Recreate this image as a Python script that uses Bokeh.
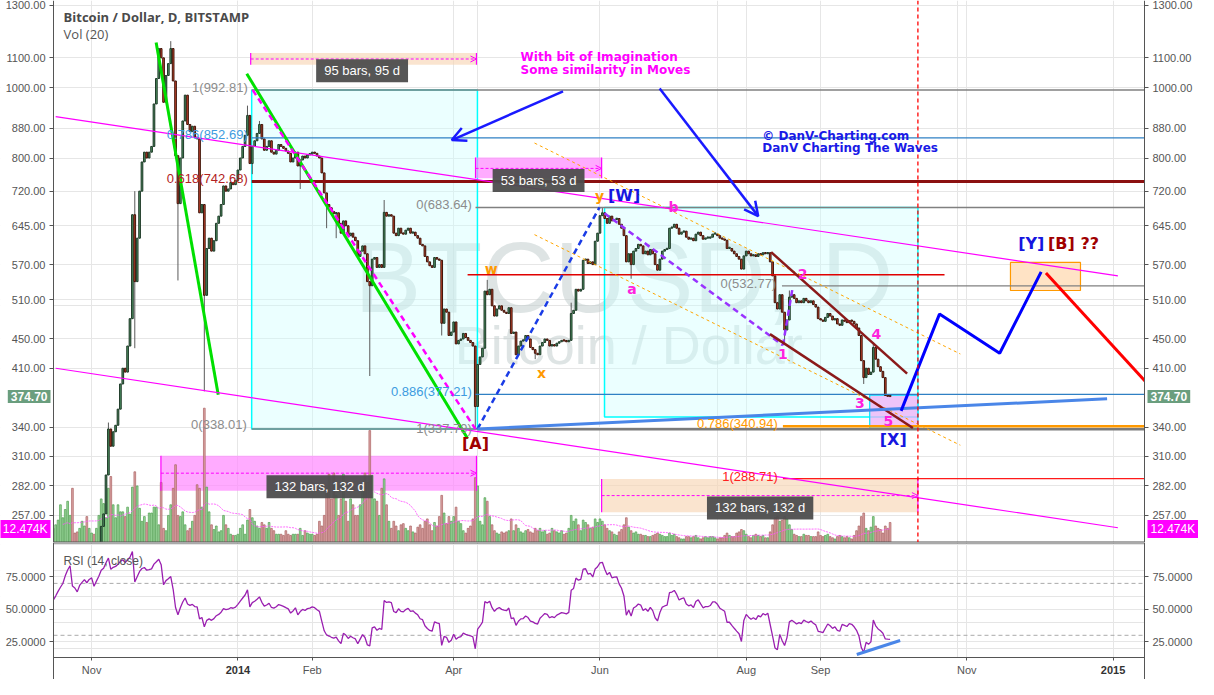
import datetime as dt
import numpy as np
import pandas as pd
from bokeh.plotting import figure
from bokeh.layouts import column
from bokeh.models import (ColumnDataSource, Range1d, LinearScale, LogAxis, LinearAxis, Grid,
                          FixedTicker, NumeralTickFormatter, Label, Arrow, OpenHead, Span)
from bokeh.embed import file_html
from bokeh.resources import INLINE

# ------------------------------------------------------------------ data
first_date = "2013-10-01"
first_open = 127.0

close_2013_10 = [128, 126, 110, 121, 122, 120, 124, 123, 125, 124, 127, 126, 130, 128, 133, 136,
                 140, 145, 150, 155, 168, 182, 196, 178, 176, 172, 185, 192, 199, 196, 204]
close_2013_11 = [208, 200, 212, 226, 248, 258, 292, 338, 320, 335, 342, 360, 390, 410, 405,
                 440, 480, 668, 540, 620, 720, 790, 815, 800, 815, 830, 950, 1030, 1133, 1100]
close_2013_12 = [955, 1040, 1080, 1133, 1022, 806, 692, 800, 900, 977, 890, 870, 885, 855, 850,
                 672, 690, 517, 600, 620, 595, 615, 650, 665, 690, 732, 720, 725, 740, 735, 745]
close_2014_01 = [770, 800, 830, 860, 916, 786, 830, 845, 865, 890, 850, 820, 830, 845, 815,
                 810, 820, 835, 830, 825, 818, 812, 790, 800, 815, 780, 795, 805, 800, 808, 810]
close_2014_02 = [815, 812, 805, 800, 763, 716, 690, 683, 675, 670, 672, 650, 630, 655, 645,
                 625, 630, 622, 615, 585, 595, 605, 590, 540, 533, 580, 583, 565]
close_2014_03 = [570, 565, 673, 665, 668, 665, 630, 625, 640, 630, 628, 636, 640, 630, 632,
                 625, 620, 608, 605, 585, 575, 568, 565, 583, 580, 578, 473, 495, 490, 455, 460]
close_2014_04 = [475, 443, 448, 450, 458, 452, 448, 445, 440, 363, 415, 425, 437, 524, 518,
                 527, 500, 484, 495, 500, 493, 490, 488, 497, 458, 460, 428, 440, 447, 448]
close_2014_05 = [455, 450, 438, 435, 430, 428, 440, 445, 450, 448, 440, 442, 440, 444, 446,
                 448, 447, 446, 448, 488, 493, 527, 524, 527, 578, 580, 572, 575, 570, 614, 630]
close_2014_06 = [666, 672, 660, 650, 665, 655, 658, 660, 648, 640, 625, 575, 590, 570, 595,
                 600, 608, 605, 590, 595, 588, 598, 590, 570, 560, 580, 595, 598, 600, 640]
close_2014_07 = [642, 648, 640, 628, 632, 634, 622, 618, 620, 615, 628, 632, 625, 618, 620,
                 620, 622, 628, 628, 625, 620, 618, 616, 600, 600, 595, 590, 585, 580, 562, 586]
close_2014_08 = [595, 590, 586, 588, 585, 590, 588, 592, 590, 592, 575, 550, 505, 495, 518,
                 490, 463, 478, 514, 518, 512, 505, 508, 505, 512, 508, 505, 508, 502, 498, 480]
close_2014_09 = [478, 476, 482, 488, 484, 478, 480, 472, 470, 478, 476, 474, 477, 476, 472,
                 466, 455, 420, 398, 410, 402, 405, 438, 422, 412, 406, 398, 376, 375, 374.70]

# volume in thousands of BTC
vol_2013_10 = [12, 20, 45, 25, 10, 8, 9, 10, 12, 10, 8, 7, 8, 10, 14, 12,
               15, 19, 32, 21, 28, 35, 23, 46, 8, 9, 12, 18, 14, 22, 12]
vol_2013_11 = [8, 7, 12, 23, 37, 33, 21, 46, 56, 32, 21, 32, 26, 26, 22,
               30, 24, 47, 60, 48, 29, 18, 22, 17, 25, 25, 30, 30, 15, 51]
vol_2013_12 = [12, 10, 23, 32, 46, 66, 23, 22, 26, 15, 10, 12, 18, 23, 49,
               46, 30, 114, 47, 26, 15, 11, 14, 9, 10, 23, 15, 12, 7, 6, 6]
vol_2014_01 = [7, 12, 15, 7, 19, 28, 21, 18, 14, 12, 17, 15, 12, 17, 12,
               10, 7, 7, 7, 6, 10, 7, 6, 7, 7, 7, 12, 6, 10, 8, 7]
vol_2014_02 = [7, 6, 7, 18, 14, 23, 46, 58, 37, 59, 40, 23, 37, 58, 35,
               18, 37, 32, 23, 23, 32, 46, 59, 51, 95, 57, 37, 35]
vol_2014_03 = [23, 46, 54, 32, 18, 12, 18, 14, 10, 15, 16, 12, 10, 14, 9,
               8, 13, 15, 12, 18, 20, 15, 10, 17, 14, 22, 40, 25, 16, 22, 18]
vol_2014_04 = [22, 30, 18, 16, 10, 8, 12, 14, 20, 55, 48, 18, 15, 38, 35,
               22, 15, 10, 8, 7, 9, 8, 9, 10, 20, 10, 15, 12, 9, 8]
vol_2014_05 = [10, 11, 9, 8, 12, 10, 12, 9, 10, 7, 8, 12, 10, 9, 8,
               10, 7, 8, 12, 23, 18, 20, 15, 10, 19, 17, 15, 12, 13, 20, 17]
vol_2014_06 = [20, 18, 15, 12, 10, 9, 7, 6, 9, 11, 15, 21, 13, 10, 8,
               9, 7, 7, 6, 6, 5, 5, 6, 7, 8, 7, 6, 5, 5, 8]
vol_2014_07 = [6, 7, 5, 4, 3, 3, 5, 5, 4, 5, 6, 4, 3, 4, 5,
               4, 5, 5, 4, 3, 4, 4, 6, 8, 6, 5, 5, 8, 9, 11, 10]
vol_2014_08 = [7, 5, 4, 6, 7, 6, 5, 6, 4, 4, 9, 15, 21, 22, 18,
               19, 22, 20, 15, 11, 7, 6, 5, 5, 7, 6, 6, 5, 5, 5, 9]
vol_2014_09 = [6, 5, 6, 7, 5, 4, 3, 5, 6, 5, 4, 5, 4, 3, 6,
               10, 14, 22, 25, 12, 10, 13, 22, 14, 12, 11, 8, 14, 12, 17]

# notable wicks
wick_high = {"2013-11-08": 345, "2013-11-19": 720, "2013-12-04": 1160, "2014-01-05": 945,
             "2014-01-10": 900, "2014-03-03": 700, "2014-04-15": 543, "2014-05-20": 505,
             "2014-06-02": 683.64, "2014-08-19": 525, "2014-09-23": 445}
wick_low = {"2013-11-19": 437, "2013-12-07": 542, "2013-12-18": 381, "2014-01-07": 760,
            "2014-01-27": 725, "2014-02-07": 640, "2014-02-11": 620, "2014-02-25": 400,
            "2014-03-27": 455, "2014-04-10": 337.79, "2014-05-05": 422, "2014-06-14": 545,
            "2014-08-17": 445, "2014-09-19": 390}

price_ticks = [257, 282, 310, 340, 410, 450, 510, 570, 645, 720, 800, 880, 1000, 1100, 1300]
rsi_ticks = [25, 50, 75]
month_ticks = [-61, 0, 31, 90, 151, 212, 243, 304, 365]      # days from 2014-01-01
month_labels = ["Nov", "2014", "Feb", "Apr", "Jun", "Aug", "Sep", "Nov", "2015"]
last_price = 374.70
vol_ma_text = "12.474K"

# drawings (x = days from 2014-01-01, y = price)
hlines = [  # x0, x1, price, color, width
    (5.75, 400, 992.81, "#808080", 1.5),
    (5.75, 400, 852.69, "#2f80c4", 1.2),
    (5.75, 400, 742.68, "#8b1010", 3.0),
    (5.75, 400, 338.01, "#808080", 1.5),
    (99.1, 400, 683.64, "#808080", 1.5),
    (99.1, 400, 377.21, "#2f80c4", 1.2),
    (99.9, 400, 337.79, "#7a7a7a", 2.5),
    (226.9, 400, 532.77, "#808080", 1.2),
    (227.3, 400, 288.71, "#ff1a1a", 1.2),
    (227.3, 400, 340.94, "#ff9900", 2.5),
    (95.8, 294.7, 552.0, "#e00000", 1.5),
]
diag_lines = [  # x0, p0, x1, p1, color, width, dash
    (-34.1, 1155, -8.2, 377, "#00e000", 3, "solid"),
    (3.7, 1046, 95.8, 328, "#00e000", 3, "solid"),
    (6.2, 992.8, 99.1, 337.8, "#ff00ff", 2.5, "6 4"),
    (99.9, 337.8, 150.8, 683.6, "#1a3ce6", 2.5, "6 4"),
    (152.9, 671, 227.3, 441, "#9933ff", 2.5, "6 4"),
    (227.3, 441, 231.4, 531, "#9933ff", 2.5, "6 4"),
    (123.7, 839, 301.3, 429, "#ffa500", 1, "3 3"),
    (123.7, 627, 301.3, 321, "#ffa500", 1, "3 3"),
    (222.4, 593, 279.1, 403, "#8b1a1a", 2.5, "solid"),
    (221.9, 457, 281.5, 339, "#8b1a1a", 2.5, "solid"),
    (-76.0, 912.5, 367.0, 550, "#ff00ff", 1.2, "solid"),
    (-76.0, 410, 367.0, 246.9, "#ff00ff", 1.2, "solid"),
    (99.9, 338, 362.5, 372, "#4a86e8", 3, "solid"),
    (337.0, 555, 378.5, 393, "#ff0000", 3, "solid"),
]
forecast_x = [276.6, 292.6, 317.7, 335.0]
forecast_p = [358, 487, 430, 557]
boxes = [  # x0, x1, p0, p1, fill, alpha, line, width
    (5.75, 99.9, 338.01, 992.81, "#ccffff", 0.4, "#00ffff", 1.5),
    (152.9, 283.6, 351, 683.64, "#ccffff", 0.4, "#00ffff", 1.5),
    (263.5, 283.6, 339, 376.5, "#eeb0f7", 0.75, "#00e5ff", 1.2),
    (322.2, 351.4, 525, 574, "#ffe0bf", 0.9, "#ff9900", 1.2),
]
range_tools = [  # x0, x1, p_lo, p_hi, p_mid, fill, alpha, text, label_x, label_p
    (5.34, 99.5, 1076, 1117, 1096, "#f8d5b5", 0.65, "95 bars, 95 d", 51.8, 1056),
    (99.1, 151.7, 750, 801, 774, "#ff88ff", 0.7, "53 bars, 53 d", 125.4, 744.5),
    (-32.1, 99.5, 277.7, 310.4, 293.7, "#ff88ff", 0.7, "132 bars, 132 d", 34.1, 281.2),
    (151.7, 283.6, 259.4, 288.2, 273.5, "#f8d5b5", 0.65, "132 bars, 132 d", 217.8, 263),
]
arrows = [  # x_start, p_start, x_end, p_end
    (135.6, 989, 89.2, 847),
    (175.9, 998, 217.0, 665),
]
fib_labels = [  # text, x, p, color
    ("1(992.81)", 4.1, 1001, "#8c8c8c"),
    ("0.786(852.69)", 4.1, 863, "#3d9be0"),
    ("0.618(742.68)", 4.1, 750, "#b22222"),
    ("0(338.01)", 3.7, 343, "#8c8c8c"),
    ("0(683.64)", 97.6, 690, "#8c8c8c"),
    ("0.886(377.21)", 97.6, 381, "#3d9be0"),
    ("1(337.79)", 97.6, 339, "#8c8c8c"),
    ("0(532.77)", 224.5, 536.5, "#8c8c8c"),
    ("1(288.71)", 225.2, 291, "#ff2020"),
    ("0.786(340.94)", 225.2, 344, "#ff9900"),
]
wave_labels = [  # text, x, p, color, size
    ("y", 150.8, 709.5, "#ff9900", 14), ("[W]", 161.1, 709.5, "#1515e0", 16),
    ("b", 181.7, 684, "#ff22dd", 14), ("w", 105.6, 562, "#ff9900", 14),
    ("x", 126.6, 404, "#ff9900", 14), ("a", 164.4, 527, "#ff22dd", 14),
    ("[A]", 99.1, 323, "#a00000", 16), ("1", 227.3, 429, "#ff22dd", 14),
    ("2", 235.5, 553, "#ff22dd", 14), ("3", 259.4, 367, "#ff22dd", 14),
    ("4", 266.3, 457, "#ff22dd", 14), ("5", 271.3, 347, "#ff22dd", 14),
    ("[X]", 273.3, 327, "#1515e0", 16), ("[Y]", 330.9, 609, "#1515e0", 16),
    ("[B]", 343.4, 609, "#a00000", 16), ("??", 355.3, 609, "#a00000", 16),
]
notes = [  # text, x, p, color
    ("With bit of Imagination", 117.9, 1103, "#ff00ff"),
    ("Some similarity in Moves", 117.9, 1059, "#ff00ff"),
    ("\u00a9 DanV-Charting.com", 218.7, 857.5, "#1a1ae6"),
    ("DanV Charting The Waves", 218.7, 826, "#1a1ae6"),
]
rsi_trend = ([258.1, 276.2], [15.2, 26.0])
rsi_levels = [70, 30]
vertical_marker = 283.6

# ------------------------------------------------------------------ derived series
closes = (close_2013_10 + close_2013_11 + close_2013_12 + close_2014_01 + close_2014_02 +
          close_2014_03 + close_2014_04 + close_2014_05 + close_2014_06 + close_2014_07 +
          close_2014_08 + close_2014_09)
vols = (vol_2013_10 + vol_2013_11 + vol_2013_12 + vol_2014_01 + vol_2014_02 + vol_2014_03 +
        vol_2014_04 + vol_2014_05 + vol_2014_06 + vol_2014_07 + vol_2014_08 + vol_2014_09)
n = min(len(closes), len(vols))
closes, vols = closes[:n], vols[:n]
start = dt.date.fromisoformat(first_date)
epoch = dt.date(2014, 1, 1)
day = np.array([(start - epoch).days + i for i in range(n)], dtype=float)
close = np.array(closes, dtype=float)
opn = np.concatenate([[first_open], close[:-1]])
high = np.maximum(opn, close)
low = np.minimum(opn, close)
for k, v in wick_high.items():
    i = (dt.date.fromisoformat(k) - start).days
    if 0 <= i < n:
        high[i] = max(high[i], v)
for k, v in wick_low.items():
    i = (dt.date.fromisoformat(k) - start).days
    if 0 <= i < n:
        low[i] = min(low[i], v)
up = close >= opn
body_top = np.maximum(opn, close)
body_bot = np.minimum(opn, close)
body_top = np.where(body_top / body_bot < 1.004, body_bot * 1.004, body_top)


def wilder_rsi(c, length=14):
    diff = np.diff(c)
    gain = np.clip(diff, 0, None)
    loss = np.clip(-diff, 0, None)
    out = np.full(len(c), np.nan)
    ag, al = gain[:length].mean(), loss[:length].mean()
    out[length] = 100 - 100 / (1 + ag / al) if al > 0 else 100
    for i in range(length, len(diff)):
        ag = (ag * (length - 1) + gain[i]) / length
        al = (al * (length - 1) + loss[i]) / length
        out[i + 1] = 100 - 100 / (1 + ag / al) if al > 0 else 100
    return out


rsi = wilder_rsi(close)
vol = np.array(vols, dtype=float)
vol_ma = pd.Series(vol).rolling(20).mean().to_numpy()

# ------------------------------------------------------------------ geometry
W = 1198
H_MAIN = 542
H_RSI = 137
BL, BR = 53, 54                  # axis strips (px)
X0, X1 = -76.9, 378.1            # visible price area (days)
DPP = (X1 - X0) / (W - BL - BR)  # days per pixel
XL, XR = X0 - BL * DPP, X1 + BR * DPP
P0, P1 = 235.6, 1320.0
RSI_PX, AX_PX = 115, 22          # rsi data height / time-axis strip height
R0, R1 = 12.9, 101.5
RB = R0 - AX_PX * (R1 - R0) / RSI_PX
AXIS_GREY = "#555555"
GRID = "#e6e6e6"


def style_axis(ax, tick_out=4):
    ax.axis_line_color = AXIS_GREY
    ax.major_tick_line_color = AXIS_GREY
    ax.major_tick_out = tick_out
    ax.major_tick_in = 0
    ax.minor_tick_line_color = None
    ax.major_label_text_color = AXIS_GREY
    ax.major_label_text_font = "Liberation Sans"
    ax.major_label_text_font_size = "11px"
    ax.major_label_standoff = 4


def new_fig(height, y_range, axis_type):
    f = figure(width=W, height=height, x_range=Range1d(XL, XR), y_range=y_range,
               y_axis_type=axis_type, x_axis_location=None, y_axis_location=None,
               toolbar_location=None, output_backend="svg",
               min_border_left=0, min_border_right=0, min_border_top=0, min_border_bottom=0)
    f.outline_line_color = None
    f.background_fill_color = "white"
    f.border_fill_color = "white"
    return f


# ------------------------------------------------------------------ main pane
p = new_fig(H_MAIN, Range1d(P0, P1), "log")
p.extra_y_ranges = {"vol": Range1d(0, 460)}
p.extra_y_scales = {"vol": LinearScale()}
p.add_layout(Grid(dimension=0, ticker=FixedTicker(ticks=month_ticks), grid_line_color=GRID))
p.add_layout(Grid(dimension=1, ticker=FixedTicker(ticks=price_ticks), grid_line_color=GRID))

# watermark
p.add_layout(Label(x=161, y=548, text="BTCUSD, D", text_align="center", text_baseline="alphabetic",
                   text_font="Liberation Sans", text_font_size="100px", text_color="#c3cdcd",
                   text_alpha=0.55, level="underlay"))
p.add_layout(Label(x=163, y=442, text="Bitcoin / Dollar", text_align="center", text_baseline="alphabetic",
                   text_font="Liberation Sans", text_font_size="54px", text_color="#c3cdcd",
                   text_alpha=0.55, level="underlay"))

for x0, x1, b, t, fc, fa, lc, lw in boxes:
    p.quad(left=x0, right=x1, bottom=b, top=t, fill_color=fc, fill_alpha=fa,
           line_color=lc, line_width=lw)
for x0, x1, lo, hi, mid, fc, fa, txt, lx, lp in range_tools:
    p.quad(left=x0, right=x1, bottom=lo, top=hi, fill_color=fc, fill_alpha=fa, line_color=None)

# volume
vsrc = ColumnDataSource(dict(day=day, vol=vol,
                             fill=["#98d498" if u else "#d9a0a0" for u in up],
                             edge=["#4f9f4f" if u else "#aa6262" for u in up]))
p.vbar(x="day", top="vol", bottom=0, width=0.72, source=vsrc, y_range_name="vol",
       fill_color="fill", line_color="edge", line_width=0.7, fill_alpha=0.95)
ok = ~np.isnan(vol_ma)
p.line(day[ok], vol_ma[ok], y_range_name="vol", line_color="#ff55ff", line_width=1,
       line_dash="2 1", line_alpha=0.85)

# candles
csrc = ColumnDataSource(dict(day=day, high=high, low=low, top=body_top, bot=body_bot,
                             fill=["#4f9262" if u else "#c8452e" for u in up],
                             edge=["#1e3a28" if u else "#3f1409" for u in up]))
p.segment(x0="day", y0="low", x1="day", y1="high", source=csrc, line_color="#5a5a5a", line_width=1)
p.vbar(x="day", top="top", bottom="bot", width=0.7, source=csrc,
       fill_color="fill", line_color="edge", line_width=1)

for x0, x1, pr, c, lw in hlines:
    p.line([x0, x1], [pr, pr], line_color=c, line_width=lw)
for x0, p0, x1, p1, c, lw, dash in diag_lines:
    p.line([x0, x1], [p0, p1], line_color=c, line_width=lw, line_dash=dash)
p.line(forecast_x, forecast_p, line_color="#0000ff", line_width=3)

for x0, x1, lo, hi, mid, fc, fa, txt, lx, lp in range_tools:
    p.line([x0, x0], [lo, hi], line_color="#ff00ff", line_width=1.2)
    p.line([x1, x1], [lo, hi], line_color="#ff00ff", line_width=1.2)

# white axis strips (cover anything outside the price area)
p.quad(left=[XL - 5, X1], right=[X0, XR + 5], bottom=P0 * 0.5, top=P1 * 2,
       fill_color="white", line_color=None)
# pane separator
p.line([X0, X1], [P0, P0], line_color=AXIS_GREY, line_width=2)

# axes fixed on the edges of the price area
for side, loc in (("left", X0), ("right", X1)):
    ax = LogAxis(ticker=FixedTicker(ticks=price_ticks), formatter=NumeralTickFormatter(format="0.00"),
                 fixed_location=loc)
    style_axis(ax)
    p.add_layout(ax, side)

for x0, x1, lo, hi, mid, fc, fa, txt, lx, lp in range_tools:
    p.add_layout(Arrow(end=OpenHead(size=6, line_color="#ff00ff", line_width=1),
                       x_start=x0, y_start=mid, x_end=x1, y_end=mid,
                       line_color="#ff00ff", line_width=1, line_dash="3 2"))
    p.add_layout(Label(x=lx, y=lp, text=txt, text_align="center", text_baseline="middle",
                       text_color="white", text_font="Liberation Sans", text_font_size="13px",
                       background_fill_color="#4d4d4d", background_fill_alpha=0.95, padding=(8, 4)))
for xs, ps, xe, pe in arrows:
    p.add_layout(Arrow(end=OpenHead(size=14, line_color="#1a1aff", line_width=2.5),
                       x_start=xs, y_start=ps, x_end=xe, y_end=pe,
                       line_color="#1a1aff", line_width=2.5))
p.add_layout(Span(location=vertical_marker, dimension="height", line_color="#ff0000",
                  line_dash="4 3", line_width=1.3))

for txt, x, pr, c in fib_labels:
    p.add_layout(Label(x=x, y=pr, text=txt, text_align="right", text_baseline="middle",
                       text_color=c, text_font="Liberation Sans", text_font_size="13px"))
for txt, x, pr, c, s in wave_labels:
    p.add_layout(Label(x=x, y=pr, text=txt, text_align="center", text_baseline="middle",
                       text_color=c, text_font="DejaVu Sans", text_font_style="bold",
                       text_font_size=f"{s}px"))
for txt, x, pr, c in notes:
    p.add_layout(Label(x=x, y=pr, text=txt, text_align="left", text_baseline="middle",
                       text_color=c, text_font="DejaVu Sans", text_font_style="bold",
                       text_font_size="12px"))

p.add_layout(Label(x=-72.7, y=1252, text="Bitcoin / Dollar, D, BITSTAMP", text_align="left",
                   text_baseline="middle", text_color="#4a4a4a", text_font="Open Sans",
                   text_font_style="bold", text_font_size="13px"))
p.add_layout(Label(x=-72.7, y=1188, text="Vol (20)", text_align="left", text_baseline="middle",
                   text_color="#555555", text_font="Open Sans", text_font_size="13px"))

# last price / volume-average markers on both price scales
for x, align, off in ((X0, "right", -3), (X1, "left", 3)):
    p.add_layout(Label(x=x, x_offset=off, y=last_price, text=f"{last_price:.2f}",
                       text_align=align, text_baseline="middle", text_color="white",
                       text_font="Liberation Sans", text_font_style="bold", text_font_size="12px",
                       background_fill_color="#6a9e7e", padding=(3, 2)))
    p.add_layout(Label(x=x, x_offset=off, y=11.5, y_range_name="vol", text=vol_ma_text,
                       text_align=align, text_baseline="middle", text_color="white",
                       text_font="Liberation Sans", text_font_size="12px",
                       background_fill_color="#ff00ff", padding=(3, 2)))

# ------------------------------------------------------------------ RSI pane
r = new_fig(H_RSI, Range1d(RB, R1), "linear")
r.x_range = p.x_range
r.add_layout(Grid(dimension=0, ticker=FixedTicker(ticks=month_ticks), grid_line_color=GRID))
r.add_layout(Grid(dimension=1, ticker=FixedTicker(ticks=rsi_ticks), grid_line_color=GRID))
for lvl in rsi_levels:
    r.line([X0, X1], [lvl, lvl], line_color="#aaaaaa", line_dash="4 3", line_width=1)
ok = ~np.isnan(rsi)
r.line(day[ok], rsi[ok], line_color="#9a1fb0", line_width=1.3)
r.line(rsi_trend[0], rsi_trend[1], line_color="#4a86e8", line_width=3)
# white strips: sides and time-axis area
r.quad(left=[XL - 5, X1, XL - 5], right=[X0, XR + 5, XR + 5], bottom=[RB - 20, RB - 20, RB - 20],
       top=[R1 + 20, R1 + 20, R0], fill_color="white", line_color=None)
r.line([X0, X1], [R1, R1], line_color=AXIS_GREY, line_width=2)
r.line([X0, X1], [R0, R0], line_color=AXIS_GREY, line_width=1)

for side, loc in (("left", X0), ("right", X1)):
    ax = LinearAxis(ticker=FixedTicker(ticks=rsi_ticks), formatter=NumeralTickFormatter(format="0.0000"),
                    fixed_location=loc)
    style_axis(ax)
    r.add_layout(ax, side)
xax = LinearAxis(ticker=FixedTicker(ticks=month_ticks), fixed_location=R0)
style_axis(xax, tick_out=3)
xax.axis_line_color = None
xax.major_label_standoff = 3
xax.major_label_overrides = {t: ("" if lab in ("2014", "2015") else lab)
                             for t, lab in zip(month_ticks, month_labels)}
r.add_layout(xax, "below")

r.add_layout(Label(x=-72.7, y=87, text="RSI (14, close)", text_align="left", text_baseline="middle",
                   text_color="#555555", text_font="Liberation Sans", text_font_size="12px"))
year_y = R0 - 12.5 * (R1 - R0) / RSI_PX
for t, lab in zip(month_ticks, month_labels):
    if lab in ("2014", "2015"):
        r.add_layout(Label(x=t, y=year_y, text=lab, text_align="center", text_baseline="middle",
                           text_color="#333333", text_font="Liberation Sans",
                           text_font_style="bold", text_font_size="11px"))

layout = column(p, r, spacing=0)
open("out.html", "w").write(file_html(layout, INLINE))
